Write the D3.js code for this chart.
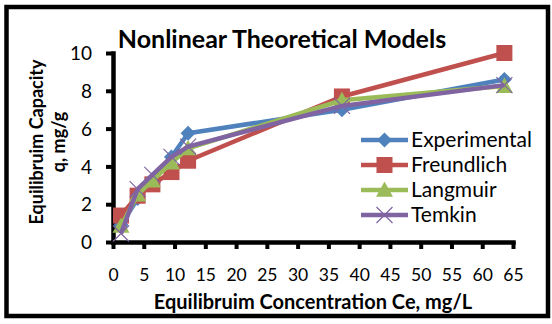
<!DOCTYPE html>
<html>
<head>
<meta charset="utf-8">
<script src="https://cdn.jsdelivr.net/npm/d3@7"></script>
<style>
  html, body { margin: 0; padding: 0; background: #fff; }
  svg { display: block; }
</style>
</head>
<body>
<svg id="chart" width="552" height="324"></svg>
<script>
// ---- data ----
const ce = [1.3, 4.0, 6.4, 9.5, 12.2, 37.2, 63.6];
const experimental = [0.9, 2.3, 3.3, 4.5, 5.75, 7.0, 8.6];
const freundlich = [1.4, 2.45, 3.05, 3.7, 4.3, 7.7, 10.0];
const langmuir = [0.85, 2.5, 3.25, 4.2, 4.95, 7.5, 8.25];
const temkin = [0.45, 2.8, 3.55, 4.5, 5.05, 7.2, 8.3];
const seriesNames = ["Experimental", "Freundlich", "Langmuir", "Temkin"];
const xTicks = [0, 5, 10, 15, 20, 25, 30, 35, 40, 45, 50, 55, 60, 65];
const yTicks = [0, 2, 4, 6, 8, 10];

const seriesValues = [experimental, freundlich, langmuir, temkin];
const colors = ["#4F81BD", "#C0504D", "#9BBB59", "#8064A2"];
const markers = ["diamond", "square", "triangle", "x"];
const FONT = "Lato, 'Open Sans', sans-serif";

const svg = d3.select("#chart");

// frame
svg.append("rect").attr("x", 6.5).attr("y", 7).attr("width", 541.5).attr("height", 309)
  .attr("fill", "#fff").attr("stroke", "#000").attr("stroke-width", 4.5);

const x = d3.scaleLinear().domain([0, 65]).range([113, 513]);
const y = d3.scaleLinear().domain([0, 10]).range([242, 53]);

// title
svg.append("text").attr("x", 282).attr("y", 48).attr("text-anchor", "middle")
  .attr("font-family", FONT).attr("font-weight", "bold").attr("font-size", 25)
  .text("Nonlinear Theoretical Models");

// axes
const gx = svg.append("g").attr("transform", "translate(0,242)")
  .call(d3.axisBottom(x).tickValues(xTicks).tickSize(7).tickSizeOuter(0).tickPadding(20));
const gy = svg.append("g").attr("transform", "translate(113,0)")
  .call(d3.axisLeft(y).tickValues(yTicks).tickSize(7).tickSizeOuter(0).tickPadding(14));
[gx, gy].forEach(g => {
  g.select(".domain").attr("stroke", "#000").attr("stroke-width", 4.5).attr("stroke-linecap", "square");
  g.selectAll(".tick line").attr("stroke", "#000").attr("stroke-width", 4);
  g.selectAll(".tick text").attr("font-family", FONT).attr("font-size", 17.5).attr("fill", "#000");
});
gy.selectAll(".tick text").attr("font-size", 19).attr("dy", "0.35em");

// axis titles
svg.append("text").attr("x", 313).attr("y", 309).attr("text-anchor", "middle")
  .attr("font-family", FONT).attr("font-weight", "bold").attr("font-size", 20)
  .text("Equilibruim Concentration Ce, mg/L");
const yt = svg.append("text").attr("transform", "translate(43,142) rotate(-90)")
  .attr("text-anchor", "middle").attr("font-family", FONT).attr("font-weight", "bold").attr("font-size", 18);
yt.append("tspan").attr("x", 0).attr("y", 0).text("Equilibruim Capacity");
yt.append("tspan").attr("x", 0).attr("y", 22).text("q, mg/g");

// marker drawer
function drawMarker(g, type, cx, cy, color) {
  if (type === "diamond") {
    const s = 7.5;
    g.append("path").attr("d", `M${cx},${cy - s}L${cx + s},${cy}L${cx},${cy + s}L${cx - s},${cy}Z`).attr("fill", color);
  } else if (type === "square") {
    const s = 8;
    g.append("rect").attr("x", cx - s).attr("y", cy - s).attr("width", 2 * s).attr("height", 2 * s).attr("fill", color);
  } else if (type === "triangle") {
    const s = 8.5;
    g.append("path").attr("d", `M${cx},${cy - s}L${cx + s},${cy + s * 0.8}L${cx - s},${cy + s * 0.8}Z`).attr("fill", color);
  } else {
    const s = 8;
    g.append("path").attr("d", `M${cx - s},${cy - s}L${cx + s},${cy + s}M${cx - s},${cy + s}L${cx + s},${cy - s}`)
      .attr("stroke", color).attr("stroke-width", 1.2).attr("fill", "none");
  }
}

// series
const line = d3.line().x(d => x(d[0])).y(d => y(d[1]));
seriesValues.forEach((vals, i) => {
  const g = svg.append("g");
  const pts = ce.map((c, j) => [c, vals[j]]);
  g.append("path").attr("d", line(pts)).attr("fill", "none").attr("stroke", colors[i])
    .attr("stroke-width", 4.5).attr("stroke-linejoin", "round");
  pts.forEach(p => drawMarker(g, markers[i], x(p[0]), y(p[1]), colors[i]));
});

// legend
const legY = [140, 165, 190, 215];
seriesNames.forEach((name, i) => {
  const g = svg.append("g");
  g.append("line").attr("x1", 361).attr("x2", 408).attr("y1", legY[i]).attr("y2", legY[i])
    .attr("stroke", colors[i]).attr("stroke-width", 4.5);
  drawMarker(g, markers[i], 384.5, legY[i], colors[i]);
  g.append("text").attr("x", 411).attr("y", legY[i]).attr("dy", "0.35em")
    .attr("font-family", FONT).attr("font-size", 21).text(name);
});
</script>
</body>
</html>
